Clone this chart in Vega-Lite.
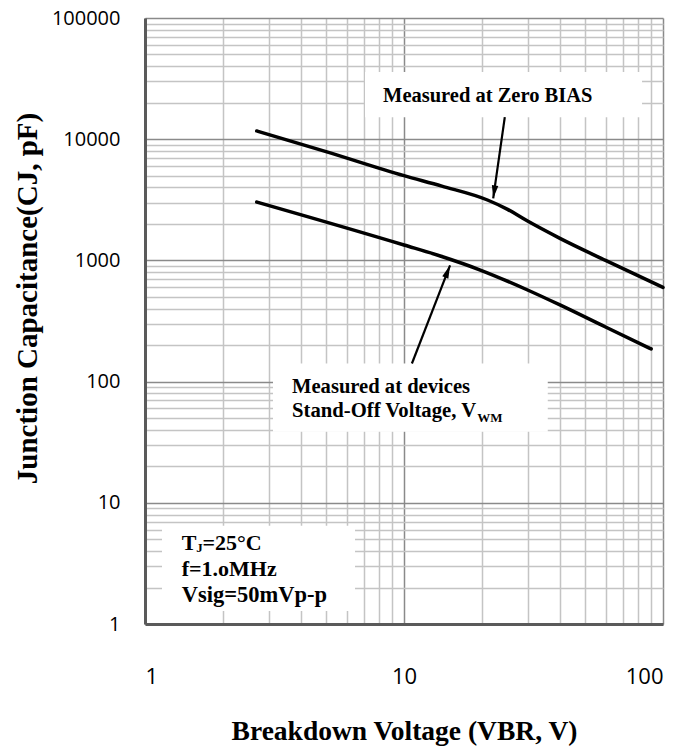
{
  "$schema": "https://vega.github.io/schema/vega-lite/v6.json",
  "width": 518,
  "height": 606,
  "autosize": {"type": "none"},
  "padding": {"left": 145, "top": 18, "right": 23, "bottom": 127},
  "background": "white",
  "config": {"view": {"stroke": null}},
  "datasets": {
    "curves": [
      {"k": "zero", "x": 2.7, "y": 11700},
      {"k": "zero", "x": 5, "y": 7900},
      {"k": "zero", "x": 10, "y": 5000},
      {"k": "zero", "x": 14, "y": 4100},
      {"k": "zero", "x": 21, "y": 3150},
      {"k": "zero", "x": 25, "y": 2650},
      {"k": "zero", "x": 30, "y": 2110},
      {"k": "zero", "x": 40, "y": 1520},
      {"k": "zero", "x": 60, "y": 1000},
      {"k": "zero", "x": 100, "y": 598},
      {"k": "vwm", "x": 2.7, "y": 3030},
      {"k": "vwm", "x": 10, "y": 1340},
      {"k": "vwm", "x": 13.8, "y": 1087},
      {"k": "vwm", "x": 19.7, "y": 833},
      {"k": "vwm", "x": 30, "y": 570},
      {"k": "vwm", "x": 40, "y": 429},
      {"k": "vwm", "x": 60, "y": 282},
      {"k": "vwm", "x": 90, "y": 186}
    ],
    "boxes": [
      {"x": 7.07, "x2": 83, "y": 15200, "y2": 35800},
      {"x": 3.12, "x2": 35.9, "y": 38.6, "y2": 141},
      {"x": 1.163, "x2": 6.47, "y": 1.28, "y2": 6.46}
    ],
    "arrows": [
      {"x": 22.1, "y": 3250, "x2": 24.5, "y2": 15200, "a": 188.4},
      {"x": 15.06, "y": 910, "x2": 10.73, "y2": 141, "a": 21.4}
    ],
    "texts": [
      {"x": 8.3, "y": 20400, "t": "Measured at Zero BIAS", "s": 20.5},
      {"x": 3.695, "y": 80, "t": "Measured at devices", "s": 20.6},
      {"x": 3.695, "y": 51.3, "t": "Stand-Off Voltage, V", "s": 20.7},
      {"x": 19.19, "y": 46.7, "t": "WM", "s": 13},
      {"x": 1.386, "y": 4.08, "t": "T", "s": 22},
      {"x": 1.578, "y": 3.95, "t": "J", "s": 13},
      {"x": 1.667, "y": 4.08, "t": "=25°C", "s": 22},
      {"x": 1.386, "y": 2.49, "t": "f=1.oMHz", "s": 22},
      {"x": 1.386, "y": 1.53, "t": "Vsig=50mVp-p", "s": 22.5}
    ]
  },
  "encoding": {
    "x": {
      "field": "x",
      "type": "quantitative",
      "scale": {"type": "log", "domain": [1, 100], "nice": false},
      "axis": {
        "title": "Breakdown Voltage (VBR, V)",
        "values": [1, 2, 3, 4, 5, 6, 7, 8, 9, 10, 20, 30, 40, 50, 60, 70, 80, 90, 100],
        "format": "d",
        "labelExpr": "indexof([1,10,100], datum.value) >= 0 ? datum.label : ''",
        "labelOverlap": false,
        "labelFont": "Open Sans",
        "labelFontSize": 22,
        "labelColor": "#000",
        "labelPadding": 42,
        "ticks": false,
        "tickSize": 0,
        "grid": true,
        "gridColor": {"condition": {"test": "indexof([1,10,100], datum.value) >= 0", "value": "#8a8a8a"}, "value": "#c4c4c4"},
        "gridWidth": 1.5,
        "domain": true,
        "domainColor": "#5a5a5a",
        "domainWidth": 3,
        "titleFont": "Liberation Serif",
        "titleFontWeight": "bold",
        "titleFontSize": 27.5,
        "titleColor": "#000",
        "titlePadding": 30
      }
    },
    "y": {
      "field": "y",
      "type": "quantitative",
      "scale": {"type": "log", "domain": [1, 100000], "nice": false},
      "axis": {
        "title": "Junction Capacitance(CJ, pF)",
        "values": [1, 2, 3, 4, 5, 6, 7, 8, 9, 10, 20, 30, 40, 50, 60, 70, 80, 90, 100, 200, 300, 400, 500, 600, 700, 800, 900, 1000, 2000, 3000, 4000, 5000, 6000, 7000, 8000, 9000, 10000, 20000, 30000, 40000, 50000, 60000, 70000, 80000, 90000, 100000],
        "format": "d",
        "labelExpr": "indexof([1,10,100,1000,10000,100000], datum.value) >= 0 ? datum.label : ''",
        "labelOverlap": false,
        "labelFont": "Open Sans",
        "labelFontSize": 20,
        "labelColor": "#000",
        "labelPadding": 25,
        "ticks": false,
        "tickSize": 0,
        "grid": true,
        "gridColor": {"condition": {"test": "indexof([1,10,100,1000,10000,100000], datum.value) >= 0", "value": "#8a8a8a"}, "value": "#c4c4c4"},
        "gridWidth": 1.5,
        "domain": true,
        "domainColor": "#5a5a5a",
        "domainWidth": 3,
        "titleFont": "Liberation Serif",
        "titleFontWeight": "bold",
        "titleFontSize": 29,
        "titleColor": "#000",
        "titlePadding": 9,
        "titleY": 280
      }
    }
  },
  "layer": [
    {
      "data": {"name": "boxes"},
      "mark": {"type": "rect", "fill": "white", "stroke": null},
      "encoding": {
        "x2": {"field": "x2"},
        "y2": {"field": "y2"}
      }
    },
    {
      "data": {"name": "curves"},
      "mark": {"type": "line", "color": "#000", "strokeWidth": 3.5, "interpolate": "monotone", "strokeJoin": "round", "strokeCap": "round"},
      "encoding": {
        "detail": {"field": "k", "type": "nominal"}
      }
    },
    {
      "data": {"name": "arrows"},
      "mark": {"type": "rule", "color": "#000", "strokeWidth": 2.2},
      "encoding": {
        "x2": {"field": "x2"},
        "y2": {"field": "y2"}
      }
    },
    {
      "data": {"name": "arrows"},
      "mark": {"type": "point", "shape": "M0,0L0.5,2L-0.5,2Z", "filled": true, "color": "#000", "opacity": 1, "size": 170, "strokeWidth": 0},
      "encoding": {
        "angle": {"field": "a", "type": "quantitative", "scale": null}
      }
    },
    {
      "data": {"name": "texts"},
      "mark": {"type": "text", "font": "Liberation Serif", "fontWeight": "bold", "align": "left", "baseline": "alphabetic", "color": "#000"},
      "encoding": {
        "text": {"field": "t", "type": "nominal"},
        "size": {"field": "s", "type": "quantitative", "scale": null}
      }
    },
    {
      "data": {"values": [{}]},
      "mark": {"type": "rule", "color": "#000", "strokeWidth": 3.5},
      "encoding": {
        "x": {"datum": 1},
        "x2": {"datum": 100},
        "y": {"datum": 100000}
      }
    },
    {
      "data": {"values": [{}]},
      "mark": {"type": "rule", "color": "#000", "strokeWidth": 3.5},
      "encoding": {
        "x": {"datum": 100},
        "y": {"datum": 1},
        "y2": {"datum": 100000}
      }
    }
  ]
}
